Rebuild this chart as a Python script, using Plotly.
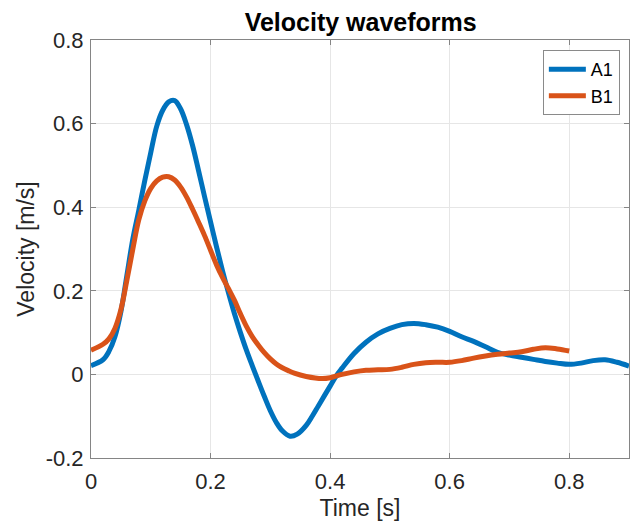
import plotly.graph_objects as go

# Velocity samples over one cardiac cycle
time_a1 = [0.0, 0.02, 0.03, 0.04, 0.05, 0.06, 0.07, 0.08, 0.09, 0.10,
           0.11, 0.12, 0.13, 0.14, 0.15, 0.16, 0.17, 0.18, 0.19, 0.20,
           0.21, 0.22, 0.23, 0.24, 0.25, 0.26, 0.27, 0.28, 0.29, 0.30,
           0.31, 0.32, 0.333, 0.345, 0.36, 0.37, 0.38, 0.39, 0.40, 0.41,
           0.42, 0.44, 0.46, 0.48, 0.50, 0.52, 0.54, 0.56, 0.58, 0.60,
           0.62, 0.64, 0.66, 0.68, 0.70, 0.72, 0.74, 0.76, 0.78, 0.80,
           0.82, 0.84, 0.86, 0.88, 0.90]
vel_a1 = [0.021, 0.035, 0.055, 0.09, 0.15, 0.237, 0.324, 0.393, 0.464, 0.531,
          0.594, 0.632, 0.652, 0.655, 0.635, 0.597, 0.547, 0.487, 0.425, 0.365,
          0.305, 0.248, 0.195, 0.145, 0.10, 0.058, 0.02, -0.017, -0.053, -0.087,
          -0.115, -0.135, -0.148, -0.143, -0.122, -0.10, -0.076, -0.052, -0.028, -0.004,
          0.015, 0.05, 0.077, 0.097, 0.11, 0.119, 0.122, 0.119, 0.113, 0.103,
          0.09, 0.079, 0.066, 0.053, 0.046, 0.041, 0.036, 0.031, 0.027, 0.024,
          0.027, 0.033, 0.035, 0.029, 0.02]

time_b1 = [0.0, 0.02, 0.03, 0.04, 0.05, 0.06, 0.07, 0.08, 0.09, 0.10,
           0.11, 0.12, 0.13, 0.14, 0.15, 0.16, 0.17, 0.18, 0.19, 0.20,
           0.21, 0.22, 0.23, 0.24, 0.25, 0.26, 0.27, 0.28, 0.29, 0.30,
           0.31, 0.32, 0.33, 0.34, 0.36, 0.387, 0.40, 0.42, 0.44, 0.46,
           0.48, 0.50, 0.52, 0.54, 0.56, 0.58, 0.60, 0.62, 0.64, 0.66,
           0.68, 0.70, 0.72, 0.74, 0.76, 0.78, 0.80]
vel_b1 = [0.058, 0.072, 0.085, 0.11, 0.155, 0.225, 0.30, 0.37, 0.415, 0.445,
          0.463, 0.472, 0.473, 0.465, 0.448, 0.424, 0.395, 0.364, 0.332, 0.297,
          0.262, 0.232, 0.205, 0.177, 0.145, 0.115, 0.09, 0.07, 0.052, 0.037,
          0.025, 0.016, 0.009, 0.003, -0.005, -0.01, -0.008, 0.0, 0.006, 0.01,
          0.011, 0.012, 0.017, 0.024, 0.028, 0.029, 0.029, 0.033, 0.039, 0.044,
          0.048, 0.051, 0.054, 0.06, 0.064, 0.061, 0.056]

x_ticks = [0, 0.2, 0.4, 0.6, 0.8]
x_tick_labels = ["0", "0.2", "0.4", "0.6", "0.8"]
y_ticks = [-0.2, 0, 0.2, 0.4, 0.6, 0.8]
y_tick_labels = ["-0.2", "0", "0.2", "0.4", "0.6", "0.8"]

FONT = "Liberation Sans, Arial, Helvetica, sans-serif"
AXIS_COLOR = "#858585"
GRID_COLOR = "#e6e6e6"
TEXT_COLOR = "#262626"

fig = go.Figure()
fig.add_trace(go.Scatter(x=time_a1, y=vel_a1, name="A1", mode="lines",
                         line=dict(color="#0072BD", width=5, shape="spline", smoothing=1.0)))
fig.add_trace(go.Scatter(x=time_b1, y=vel_b1, name="B1", mode="lines",
                         line=dict(color="#D95319", width=5, shape="spline", smoothing=1.0)))

axis_common = dict(
    showline=True, linecolor=AXIS_COLOR, linewidth=1, mirror="ticks",
    ticks="inside", ticklen=5, tickcolor=AXIS_COLOR, tickwidth=1,
    showgrid=True, gridcolor=GRID_COLOR, gridwidth=1, zeroline=False,
    tickfont=dict(family=FONT, size=22, color=TEXT_COLOR),
)

fig.update_layout(
    width=630, height=521,
    margin=dict(l=91, r=1, t=40, b=63),
    paper_bgcolor="white", plot_bgcolor="white",
    title=dict(text="<b>Velocity waveforms</b>", x=0.5725, xanchor="center",
               y=0.957, yanchor="middle",
               font=dict(family=FONT, size=25, color="black")),
    xaxis=dict(range=[0, 0.9], tickvals=x_ticks, ticktext=x_tick_labels,
               ticklabelstandoff=4,
               title=dict(text="Time [s]", standoff=8,
                          font=dict(family=FONT, size=23, color=TEXT_COLOR)),
               **axis_common),
    yaxis=dict(range=[-0.2, 0.8], tickvals=y_ticks, ticktext=y_tick_labels,
               ticklabelstandoff=2,
               title=dict(text="Velocity [m/s]", standoff=4,
                          font=dict(family=FONT, size=23, color=TEXT_COLOR)),
               **axis_common),
    legend=dict(x=0.983, y=0.976, xanchor="right", yanchor="top",
                bgcolor="white", bordercolor="#8a8a8a", borderwidth=1,
                font=dict(family=FONT, size=18, color="black"),
                itemwidth=37, tracegroupgap=0),
    showlegend=True,
)

fig.write_html("out.html")
